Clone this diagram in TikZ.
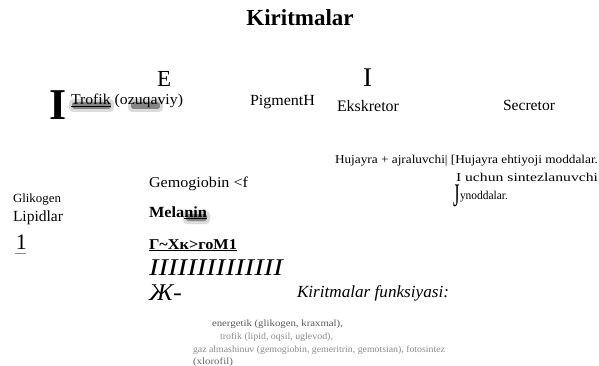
\documentclass[tikz,border=0pt]{standalone}
\usepackage{fontspec}
\usepackage{graphicx}
\setmainfont{Liberation Serif}
\newcommand{\fs}[1]{\fontsize{#1}{#1}\selectfont}
\newcommand{\fw}[2]{\resizebox{#1}{\height}{#2}}
\begin{document}
\begin{tikzpicture}[x=1pt,y=1pt,
  every node/.style={inner sep=0pt, outer sep=0pt, anchor=base west},
  smudge/.style={fill=black!75, opacity=0.55, rounded corners=2.5pt},
  smudgesoft/.style={fill=black!40, opacity=0.35, rounded corners=4pt},
  graytxt/.style={text=black!55}]
\useasboundingbox (0,0) rectangle (599,-366);
\fill[white] (0,0) rectangle (599,-366);

% title
\node[anchor=base, font=\fs{23}\bfseries] (title) at (300,-26) {Kiritmalar};

% top row
\node[font=\fs{23}] (E) at (157,-87) {E};
\node[font=\fs{44}\bfseries] (bigI) at (49,-120) {I};
\fill[smudgesoft] (69,-99) rectangle (114,-112);
\fill[smudge] (72,-102) rectangle (111,-109);
\fill[smudgesoft] (128,-99) rectangle (163,-112);
\fill[smudge] (131,-102) rectangle (160,-109);
\node[font=\fs{15}] (trofik) at (71,-105) {\fw{112pt}{\underline{Trofik} (ozuqaviy)}};
\node[font=\fs{15.5}] (pigment) at (250,-106) {\fw{65pt}{PigmentH}};
\node[font=\fs{27}] (Iek) at (363,-87) {I};
\node[font=\fs{16}] (ekskretor) at (337,-112) {\fw{62pt}{Ekskretor}};
\node[font=\fs{15.5}] (secretor) at (503,-111) {\fw{52pt}{Secretor}};

% right block
\node[font=\fs{12}] (hujayra) at (335,-164) {\fw{263pt}{Hujayra + ajraluvchi| [Hujayra ehtiyoji moddalar.}};
\node[font=\fs{12}] (uchun) at (456,-182) {\fw{142pt}{I uchun sintezlanuvchi}};
\node[font=\fs{33}] (J) at (453,-206) {\scalebox{0.5}[1]{J}};
\node[font=\fs{12}] (ynod) at (460,-200) {\fw{48pt}{ynoddalar.}};

% left block
\node[font=\fs{12.5}] (glikogen) at (13,-203) {\fw{48pt}{Glikogen}};
\node[font=\fs{15.5}] (lipidlar) at (13,-222) {\fw{50pt}{Lipidlar}};
\node[font=\fs{22}] (one) at (16,-249) {1};
\draw[black!45, line width=1.2pt] (15,-253.5) -- (26,-253.5);

% middle block
\node[font=\fs{15}] (gemo) at (149,-187) {\fw{99pt}{Gemogiobin <f}};
\fill[smudgesoft] (183,-211) rectangle (210,-224);
\fill[smudge] (186,-214) rectangle (207,-221);
\node[font=\fs{15.5}\bfseries] (melanin) at (149,-217) {\fw{58pt}{Mela\underline{nin}}};
\node[font=\fs{15}\bfseries] (gxk) at (149,-249) {\fw{88pt}{\underline{Г\textasciitilde Хк>гоМ1}}};
\node[font=\fs{24}\itshape] (iii) at (149,-275) {\fw{134pt}{IIIIIIIIIIIIII}};
\node[font=\fs{24}\itshape] (zh) at (149,-300) {\fw{33pt}{Ж-}};
\node[font=\fs{17}\itshape] (kf) at (297,-297) {\fw{152pt}{Kiritmalar funksiyasi:}};

% bottom gray text
\node[font=\fs{9.5}, graytxt, text=black!65] (l1) at (212,-326) {\fw{131pt}{energetik (glikogen, kraxmal),}};
\node[font=\fs{9.5}, graytxt, text=black!45] (l2) at (220,-339) {\fw{113pt}{trofik (lipid, oqsil, uglevod),}};
\node[font=\fs{9.5}, graytxt, text=black!45] (l3) at (193,-352) {\fw{252pt}{gaz almashinuv (gemogiobin, gemeritrin, gemotsian), fotosintez}};
\node[font=\fs{9.5}, graytxt, text=black!60] (l4) at (193,-364) {\fw{40pt}{(xlorofil)}};
\end{tikzpicture}
\end{document}
